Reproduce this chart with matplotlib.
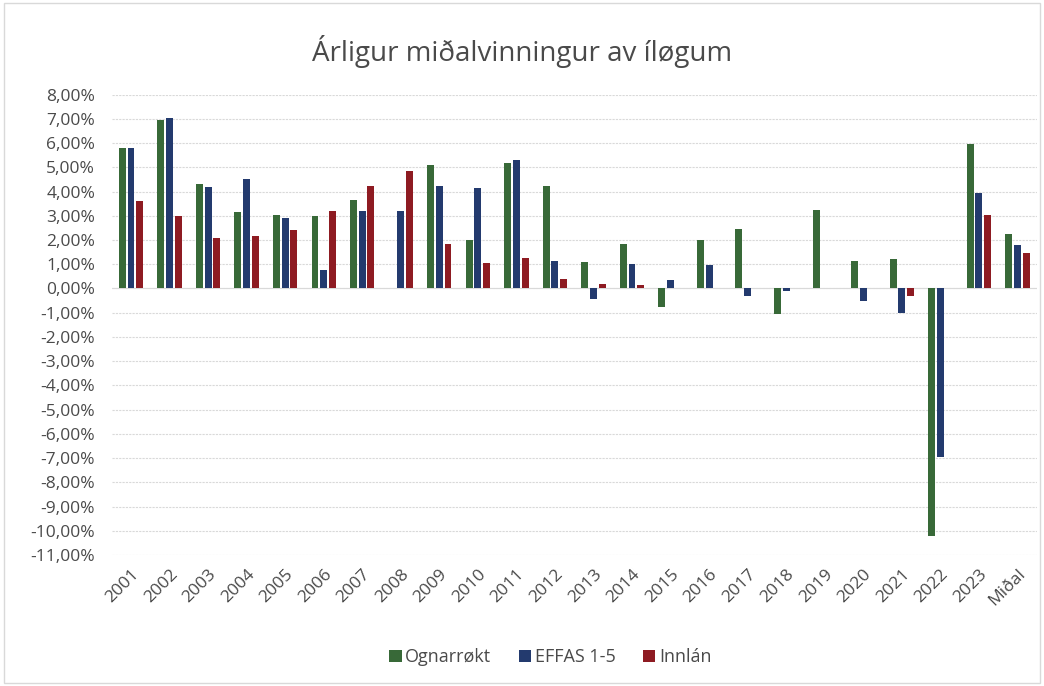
import numpy as np
import matplotlib
matplotlib.use("Agg")
import matplotlib.pyplot as plt
from matplotlib.ticker import FuncFormatter, MultipleLocator
from matplotlib.patches import Rectangle

# data (percent)
years = ["2001", "2002", "2003", "2004", "2005", "2006", "2007", "2008", "2009",
         "2010", "2011", "2012", "2013", "2014", "2015", "2016", "2017", "2018",
         "2019", "2020", "2021", "2022", "2023", "Miðal"]
ognarrokt = [5.8, 6.97, 4.3, 3.15, 3.05, 3.0, 3.65, 0.0, 5.1, 2.0, 5.2, 4.25,
             1.1, 1.85, -0.75, 2.0, 2.45, -1.05, 3.25, 1.15, 1.2, -10.2, 5.95, 2.25]
effas = [5.8, 7.05, 4.2, 4.5, 2.9, 0.75, 3.2, 3.2, 4.25, 4.15, 5.3, 1.15,
         -0.45, 1.0, 0.35, 0.95, -0.3, -0.1, 0.0, -0.5, -1.0, -6.95, 3.95, 1.8]
innlan = [3.6, 3.0, 2.1, 2.15, 2.4, 3.2, 4.25, 4.85, 1.85, 1.05, 1.25, 0.4,
          0.2, 0.15, 0.0, 0.0, 0.0, 0.0, 0.0, 0.0, -0.3, 0.0, 3.05, 1.45]
series_names = ["Ognarrøkt", "EFFAS 1-5", "Innlán"]
colors = ["#386938", "#233a6e", "#8e1b22"]

plt.rcParams['font.family'] = ['Open Sans', 'DejaVu Sans']

fig = plt.figure(figsize=(10.44, 6.86), dpi=100)
ax = fig.add_axes([0.107, 0.191, 0.886, 0.671])

x = np.arange(len(years))
w = 0.18
for k, vals in enumerate([ognarrokt, effas, innlan]):
    ax.bar(x + (k - 1) * 0.225, vals, width=w, color=colors[k],
           label=series_names[k], zorder=3)

ax.set_xlim(-0.5, len(years) - 0.5)
ax.set_ylim(-11, 8)
ax.yaxis.set_major_locator(MultipleLocator(1))
ax.yaxis.set_major_formatter(FuncFormatter(
    lambda v, p: ("%.2f%%" % v).replace(".", ",").replace("-0,00", "0,00")))
ax.grid(axis='y', color='#d9d9d9', linewidth=0.8, linestyle=(0, (2, 1)), zorder=0)
ax.axhline(0, color='#d9d9d9', linewidth=0.8, zorder=1)
for s in ax.spines.values():
    s.set_visible(False)
ax.tick_params(length=0, labelsize=12.5, colors='#4a4a4a')
ax.tick_params(axis='y', pad=12)
ax.set_xticks(x)
ax.set_xticklabels(years, rotation=45, ha='right', rotation_mode='anchor',
                   fontsize=12.5)
ax.tick_params(axis='x', pad=8)

fig.text(0.5, 0.925, "Árligur miðalvinningur av íløgum", ha='center',
         va='center', fontsize=20, color='#4a4a4a')

leg = fig.legend(loc='center', bbox_to_anchor=(0.527, 0.042), ncol=3,
                 frameon=False, fontsize=13, handlelength=0.7, handleheight=0.7,
                 handletextpad=0.2, columnspacing=1.5)
for t in leg.get_texts():
    t.set_color('#4a4a4a')

fig.patches.append(Rectangle((0.004, 0.004), 0.992, 0.992, transform=fig.transFigure,
                             fill=False, edgecolor='#d9d9d9', linewidth=1))

fig.savefig("out.png", dpi=100)
